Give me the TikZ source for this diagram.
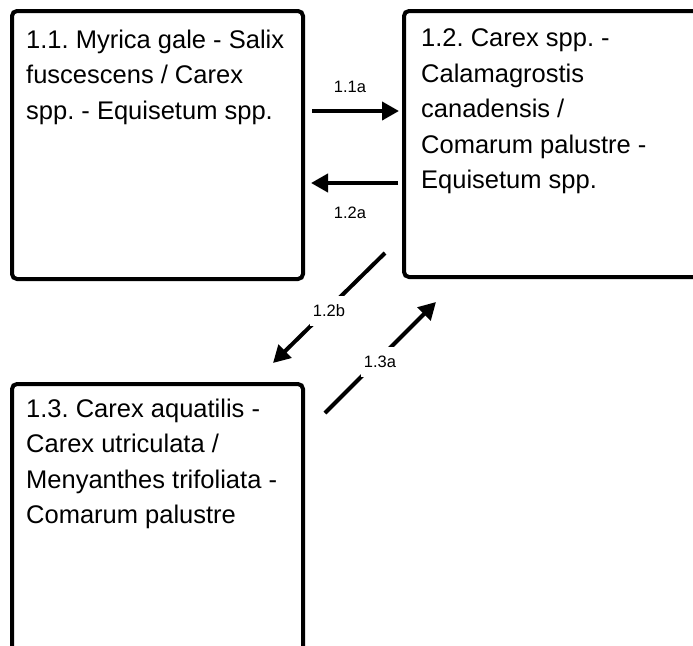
\documentclass[tikz,border=0pt]{standalone}
\usepackage{fontspec}
\setmainfont{Liberation Sans}
\usetikzlibrary{arrows.meta}
\frenchspacing
\tikzset{
  boxframe/.style={draw=black, line width=4pt, rounded corners=5pt},
  boxtext/.style={anchor=north west, inner sep=0pt, align=left, font=\fontsize{25.5}{35.5}\selectfont},
  arr/.style={line width=4pt, -{Triangle[length=17pt,width=18pt]}},
  lbl/.style={font=\fontsize{16.5}{18}\selectfont, inner sep=2pt},
  lblcut/.style={lbl, fill=white, minimum height=30pt, inner sep=3pt}
}
\begin{document}
\begin{tikzpicture}[x=1pt,y=1pt]
\useasboundingbox (0,0) rectangle (693,-645);
\clip (0,0) rectangle (693,-645);
\fill[white] (0,0) rectangle (693,-645);
% boxes
\draw[boxframe] (12,-11) rectangle (303,-279);
\draw[boxframe] (404,-11) rectangle (730,-277);
\draw[boxframe] (12,-384) rectangle (303,-700);
\node[inner sep=0pt, minimum width=291pt, minimum height=268pt] (b1) at (157.5,-145) {};
\node[inner sep=0pt, minimum width=326pt, minimum height=266pt] (b2) at (567,-144) {};
\node[inner sep=0pt, minimum width=291pt, minimum height=316pt] (b3) at (157.5,-542) {};
% texts
\node[boxtext] (t1) at (26,-29.5) {1.1. Myrica gale - Salix\\fuscescens / Carex\\spp. - Equisetum spp.};
\node[boxtext] (t2) at (421,-28.5) {1.2. Carex spp. -\\Calamagrostis\\canadensis /\\Comarum palustre -\\Equisetum spp.};
\node[boxtext] (t3) at (26,-398.5) {1.3. Carex aquatilis -\\Carex utriculata /\\Menyanthes trifoliata -\\Comarum palustre};
% connector end points
\coordinate (a1s) at (312,-111);
\coordinate (a1e) at (399,-111);
\coordinate (a2s) at (398,-183);
\coordinate (a2e) at (311,-183);
\coordinate (a3s) at (385,-253);
\coordinate (a3e) at (273,-363);
\coordinate (a4s) at (325,-413);
\coordinate (a4e) at (436,-302);
\draw[arr] (a1s) -- (a1e);
\draw[arr] (a2s) -- (a2e);
\draw[arr] (a3s) -- (a3e);
\draw[arr] (a4s) -- (a4e);
% labels
\node[lbl] (l1) at (350,-87) {1.1a};
\node[lbl] (l2) at (350,-213) {1.2a};
\node[lblcut] (l3) at (329,-311) {1.2b};
\node[lblcut] (l4) at (380,-362) {1.3a};
\end{tikzpicture}
\end{document}
